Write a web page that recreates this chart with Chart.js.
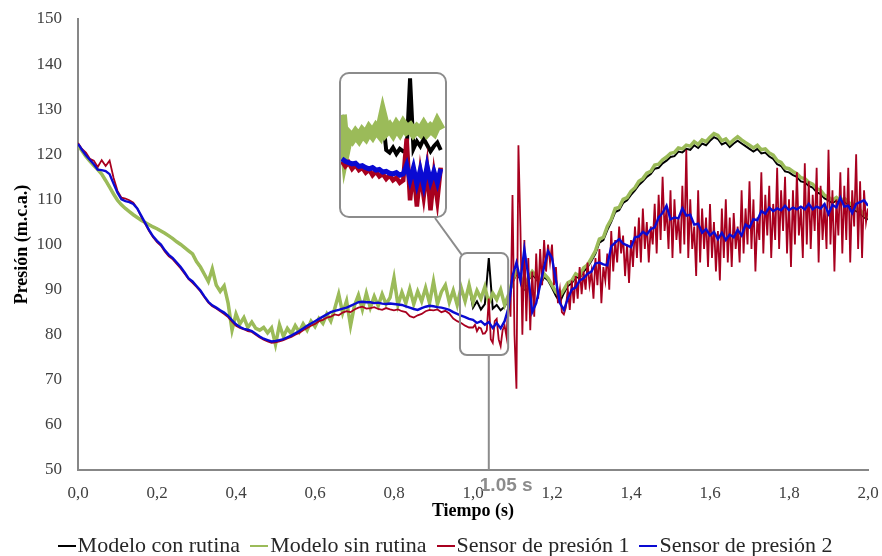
<!DOCTYPE html>
<html>
<head>
<meta charset="utf-8">
<script src="https://cdn.jsdelivr.net/npm/chart.js@4.4.0/dist/chart.umd.min.js"></script>
<style>
  body { margin: 0; background: #fff; }
  #wrap { position: relative; width: 882px; height: 556px; }
  #inset {
    position: absolute; left: 339px; top: 72px; width: 108px; height: 146px;
    box-sizing: border-box; border: 2px solid #8c8c8c; border-radius: 10px;
    overflow: hidden; background: #fff;
  }
  #legend {
    position: absolute; left: 0; top: 535px; width: 890px; height: 22px;
    display: flex; justify-content: center; gap: 10px;
    font: 22px "Liberation Serif", serif; color: #262626; line-height: 20px; white-space: nowrap;
  }
  #legend span.mark { display: inline-block; width: 18px; height: 2.5px; vertical-align: middle; margin-right: 2px; position: relative; top: -1px; }
</style>
</head>
<body>
<div id="wrap">
  <canvas id="chart" width="882" height="556"></canvas>
  <div id="inset"><canvas id="zoom" width="104" height="142"></canvas></div>
  <div id="legend"></div>
</div>
<script>
// model and sensor 2 are sampled every 0.01 s
const time = Array.from({ length: 201 }, (_, i) => +(i * 0.01).toFixed(2));
// sensor 1 is sampled every 0.01 s up to 1 s, then every 0.005 s
const sensor1Time = time.slice(0, 100).concat(
  Array.from({ length: 201 }, (_, j) => +(1 + j * 0.005).toFixed(3))
);

const modeloCon = [
  122.0, 120.8, 119.5, 118.5, 117.5, 116.6, 115.6, 114.2, 112.7, 111.2,
  109.8, 108.8, 108.0, 107.3, 106.6, 106.0, 105.4, 104.9, 104.4, 103.9,
  103.5, 103.0, 102.5, 101.9, 101.3, 100.6, 100.0, 99.3, 98.6, 97.9,
  96.2, 95.0, 93.4, 91.8, 94.6, 91.0, 89.6, 90.8, 87.0, 81.0,
  84.6, 82.4, 83.8, 81.6, 82.8, 81.4, 81.0, 81.6, 80.4, 81.5,
  77.8, 82.2, 79.6, 81.4, 80.2, 82.0, 80.6, 82.4, 81.0, 83.0,
  81.8, 83.6, 82.5, 84.6, 83.0, 85.8, 89.0, 84.8, 87.5, 82.0,
  86.5, 88.8, 85.6, 89.2, 86.0, 88.5, 86.4, 89.0, 86.8, 88.2,
  92.6, 86.6, 89.4, 87.0, 90.2, 86.8, 89.6, 87.4, 90.4, 87.0,
  91.8, 86.8, 89.5, 91.0, 87.2, 89.8, 86.6, 90.4, 87.4, 91.0,
  86.0, 87.4, 85.6, 86.8, 97.0, 85.8, 86.6, 85.4, 86.2, 88.0,
  91.5, 93.5, 92.4, 90.2, 92.0, 93.4, 92.4, 91.0, 92.8, 92.0,
  90.4, 88.6, 87.2, 89.2, 90.8, 91.4, 92.8, 92.6, 94.0, 95.0,
  96.4, 98.0, 100.4, 101.0, 103.2, 105.0, 107.2, 107.6, 109.2, 109.8,
  111.0, 112.0, 113.2, 114.0, 115.0, 115.6, 116.8, 117.0, 118.0, 118.6,
  119.4, 119.6, 120.6, 120.4, 121.2, 121.0, 122.0, 121.4, 122.4, 122.0,
  123.0, 123.8, 123.4, 122.2, 122.6, 121.6, 122.4, 123.0, 122.4, 121.8,
  121.2, 120.6, 121.2, 120.2, 120.4, 119.5, 119.0, 117.8, 117.4, 116.2,
  116.0, 115.4, 115.0, 114.0, 113.8, 113.0, 112.6, 111.6, 111.2, 110.2,
  109.8, 109.2, 109.8, 109.0, 109.6, 108.8, 108.2, 107.4, 107.0, 106.0,
  105.6
];

const modeloSin = [
  122.0, 120.8, 119.5, 118.5, 117.5, 116.6, 115.6, 114.2, 112.7, 111.2,
  109.8, 108.8, 108.0, 107.3, 106.6, 106.0, 105.4, 104.9, 104.4, 103.9,
  103.5, 103.0, 102.5, 101.9, 101.3, 100.6, 100.0, 99.3, 98.6, 97.9,
  96.2, 95.0, 93.4, 91.8, 94.6, 91.0, 89.6, 90.8, 87.0, 81.0,
  84.6, 82.4, 83.8, 81.6, 82.8, 81.4, 81.0, 81.6, 80.4, 81.5,
  77.8, 82.2, 79.6, 81.4, 80.2, 82.0, 80.6, 82.4, 81.0, 83.0,
  81.8, 83.6, 82.5, 84.6, 83.0, 85.8, 89.0, 84.8, 87.5, 82.0,
  86.5, 88.8, 85.6, 89.2, 86.0, 88.5, 86.4, 89.0, 86.8, 88.2,
  92.6, 86.6, 89.4, 87.0, 90.2, 86.8, 89.6, 87.4, 90.4, 87.0,
  91.8, 86.8, 89.5, 91.0, 87.2, 89.8, 86.6, 90.4, 87.4, 91.0,
  87.2, 89.8, 88.0, 90.6, 87.0, 89.2, 87.8, 90.0, 86.6, 88.8,
  92.0, 94.0, 93.0, 90.8, 92.5, 94.0, 93.0, 91.6, 93.5, 92.5,
  91.0, 89.5, 88.6, 90.0, 91.5, 92.0, 93.5, 93.0, 94.8, 95.5,
  97.0, 98.6, 101.2, 101.6, 104.0, 105.6, 108.0, 108.2, 110.0, 110.4,
  111.8, 112.6, 114.0, 114.6, 115.8, 116.2, 117.6, 117.8, 118.8, 119.4,
  120.2, 120.4, 121.4, 121.2, 122.0, 121.8, 122.8, 122.2, 123.2, 122.8,
  123.8, 124.6, 124.2, 123.0, 123.4, 122.4, 123.2, 123.9, 123.2, 122.6,
  122.0, 121.4, 122.0, 121.0, 121.2, 120.3, 119.8, 118.6, 118.2, 117.0,
  116.8, 116.2, 115.7, 114.8, 114.6, 113.8, 113.4, 112.4, 112.0, 110.9,
  110.5, 109.8, 110.4, 109.6, 110.2, 109.4, 108.8, 108.0, 107.6, 106.6,
  106.0
];

const sensor1 = [
  // 0.00 - 0.99 s
  122.5, 121.2, 120.4, 119.0, 118.6, 117.2, 118.7, 117.4, 118.6, 114.8,
  111.9, 110.4, 110.2, 109.8, 109.3, 108.0, 106.2, 104.6, 103.0, 101.6,
  100.5, 99.7, 98.4, 97.4, 96.7, 95.7, 94.7, 93.5, 92.3, 91.5,
  90.6, 89.6, 88.3, 87.1, 86.3, 85.8, 85.2, 84.6, 83.9, 82.9,
  82.0, 81.5, 81.2, 80.8, 80.6, 80.0, 79.4, 78.9, 78.5, 78.2,
  78.3, 78.5, 78.8, 79.2, 79.5, 80.0, 80.4, 81.0, 81.5, 82.0,
  82.4, 83.0, 83.3, 83.8, 84.0, 84.5, 84.3, 84.9, 85.2, 85.0,
  85.6, 86.0, 86.2, 85.8, 85.9, 86.1, 85.7, 85.5, 85.9, 85.6,
  85.4, 85.6, 85.2, 85.0, 84.1, 83.8, 84.3, 84.6, 85.2, 85.5,
  85.4, 85.6, 85.0, 85.3, 84.7, 83.6, 83.0, 82.6, 82.0, 81.6,
  // 1.000 - 2.000 s
  81.6, 82.2, 80.8, 81.6, 81.4, 80.2, 80.3, 81.0, 88.0, 79.0,
  78.2, 83.0, 83.5, 79.0, 77.5, 81.0, 82.0, 79.5, 89.0, 84.0,
  111, 80, 68, 122, 104, 80, 101, 83, 97, 81,
  94, 84, 98, 88, 99, 91, 101, 94, 100, 96,
  100, 91, 95, 87, 90, 85, 84.5, 86, 90, 85.5,
  92, 87, 93, 88, 95, 89, 94, 90, 96, 91,
  94, 88, 97, 91, 99, 87, 95, 92, 98, 90,
  103, 94, 101, 96, 104, 98, 102, 93, 100, 91.5,
  101, 95, 104, 97, 106, 96, 108, 99, 105, 96,
  104, 100, 109, 98, 111, 101, 115, 103, 108, 99,
  112, 97, 110, 101, 106, 98, 113, 100, 121, 97,
  110, 99, 104, 93, 112, 96, 108, 99, 106, 95,
  109, 97, 105, 94, 103, 92, 108, 97, 110, 96,
  106, 95, 107, 99, 104, 96, 112, 98, 108, 100,
  114, 99, 110, 94, 106, 101, 116, 98, 111, 102,
  113, 97, 109, 101, 117, 99, 112, 103, 115, 98,
  110, 95, 112, 100, 116, 102, 108, 97, 118, 100,
  114, 99, 111, 103, 117, 96, 113, 101, 109, 99,
  121, 100, 112, 94, 110, 102, 116, 98, 113, 101,
  117, 96, 112, 104, 120, 99, 114, 97, 112, 105,
  108
];

const sensor2 = [
  122.3, 121.0, 119.8, 118.8, 117.8, 116.6, 116.5, 116.3, 115.6, 113.5,
  111.5, 110.0, 109.6, 109.4, 109.0, 108.0, 106.4, 104.8, 103.2, 101.8,
  100.8, 100.0, 98.7, 97.7, 97.0, 96.0, 95.0, 93.8, 92.5, 91.8,
  90.8, 89.8, 88.5, 87.3, 86.5, 86.0, 85.4, 84.9, 84.2, 83.2,
  82.3, 81.7, 81.3, 81.1, 80.8, 80.2, 79.6, 79.1, 78.8, 78.5,
  78.6, 78.8, 79.0, 79.4, 79.8, 80.3, 80.8, 81.4, 82.0, 82.5,
  83.0, 83.5, 84.0, 84.5, 85.0, 85.3, 85.5, 85.8, 86.0, 86.4,
  86.8, 87.2, 87.3, 87.2, 87.2, 87.0, 87.1, 86.9, 86.8, 86.9,
  86.8, 86.7, 86.6, 86.3, 86.0, 85.7, 85.5, 85.9, 86.2, 86.4,
  86.3, 86.1, 86.0, 85.8, 85.5, 85.0, 84.6, 84.2, 83.9, 83.5,
  83.3, 82.6, 83.0, 82.2, 82.8, 81.5, 82.6, 81.4, 83.0, 86.0,
  93.0, 96.0, 92.0, 99.0, 93.0, 85.0, 87.0, 91.0, 95.0, 98.5,
  97.0, 92.0, 87.0, 85.5, 88.0, 90.0, 90.5, 92.0, 92.5, 93.5,
  94.0, 95.8, 96.0, 95.6, 95.4, 99.6, 100.4, 101.2, 100.2, 99.8,
  99.4, 101.6, 101.8, 102.8, 102.2, 103.4, 103.8, 106.0, 107.0, 108.6,
  105.6, 106.0, 105.8, 108.0, 106.4, 106.6, 104.4, 104.6, 102.6, 103.4,
  102.0, 102.8, 101.2, 102.6, 101.0, 102.2, 101.6, 103.2, 102.0, 104.4,
  103.8, 105.6, 105.4, 107.4, 106.8, 108.2, 107.4, 108.0, 107.6, 108.6,
  107.6, 108.2, 107.8, 108.4, 107.8, 109.0, 107.8, 108.4, 108.0, 109.0,
  106.8, 108.8, 108.2, 110.4, 108.4, 108.6, 107.0, 109.0, 109.4, 109.8,
  108.6
];

// finer samples around the valve closure, shown in the magnified box
const zoomTime = Array.from({ length: 30 }, (_, k) => +(0.968 + k * 0.004).toFixed(3));
const zoomCon = [
  91.6, 85.8, 88.4, 87.6, 88.6, 87.6, 88.8, 87.8, 89.0, 88.2,
  89.2, 88.4, 91.2, 86.0, 85.6, 86.4, 85.4, 86.2, 85.8, 86.0,
  97.4, 86.2, 87.4, 86.6, 87.8, 86.8, 85.8, 86.6, 87.2, 86.0
];
const zoomSin = [
  91.6, 85.8, 88.4, 87.8, 88.6, 87.9, 88.8, 88.2, 89.2, 88.5,
  89.4, 88.7, 91.2, 89.0, 89.6, 88.8, 89.8, 89.0, 90.0, 89.2,
  89.6, 88.8, 89.4, 88.9, 89.8, 88.9, 89.5, 89.0, 90.2, 89.2
];
const zoomSensor1 = [
  84.2, 83.4, 84.0, 83.0, 83.6, 82.8, 83.2, 82.4, 82.9, 82.0,
  82.6, 81.8, 82.2, 81.4, 82.0, 81.2, 81.6, 80.8, 81.2, 87.8,
  78.0, 83.2, 77.0, 82.4, 78.6, 83.0, 76.4, 82.0, 78.0, 83.2
];
const zoomSensor2 = [
  84.6, 84.2, 84.0, 83.8, 83.9, 83.4, 83.5, 83.2, 83.0, 83.2,
  82.8, 82.9, 82.5, 82.6, 82.3, 82.2, 82.4, 82.0, 82.2, 83.6,
  81.2, 83.2, 80.6, 82.8, 80.4, 83.4, 81.0, 82.6, 80.8, 83.0
];

const zoomX = [0.967, 1.089];
const zoomY = [75.5, 98.1];
const markerTime = 1.04;
const markerLabel = '1.05 s';

const seriesNames = ['Modelo con rutina', 'Modelo sin rutina', 'Sensor de presión 1', 'Sensor de presión 2'];
const seriesColors = ['#000000', '#9bbb59', '#a8001f', '#0a0ad2'];

function points(xs, ys) {
  return xs.map((t, i) => ({ x: t, y: ys[i] }));
}

function buildDatasets(series, widths) {
  // drawing order: blue on top, then red, green, black underneath
  const order = [3, 2, 1, 0];
  return series.map(([xs, ys], i) => ({
    label: seriesNames[i],
    data: points(xs, ys),
    borderColor: seriesColors[i],
    backgroundColor: seriesColors[i],
    borderWidth: widths[i],
    pointRadius: 0,
    tension: 0,
    order: order[i]
  }));
}

Chart.defaults.font.family = '"Liberation Serif", serif';
Chart.defaults.color = '#404040';

const annotations = {
  id: 'annotations',
  afterDatasetsDraw(chart) {
    const { ctx, scales: { x, y } } = chart;
    const left = x.getPixelForValue(zoomX[0]);
    const right = x.getPixelForValue(zoomX[1]);
    const top = y.getPixelForValue(zoomY[1]);
    const bottom = y.getPixelForValue(zoomY[0]);
    const mx = x.getPixelForValue(markerTime);
    const inset = document.getElementById('inset');

    ctx.save();
    ctx.strokeStyle = '#8c8c8c';
    ctx.lineWidth = 2;
    ctx.beginPath();
    ctx.roundRect(left, top, right - left, bottom - top, 7);
    ctx.stroke();

    ctx.beginPath();
    ctx.moveTo(mx, bottom);
    ctx.lineTo(mx, y.bottom);
    ctx.stroke();

    ctx.beginPath();
    ctx.moveTo(inset.offsetLeft + inset.offsetWidth - 12, inset.offsetTop + inset.offsetHeight);
    ctx.lineTo(left + 2, top + 2);
    ctx.stroke();

    ctx.font = 'bold 19px "Liberation Sans", Arial, sans-serif';
    ctx.fillStyle = '#8c8c8c';
    ctx.textBaseline = 'middle';
    ctx.fillText(markerLabel, mx - 9, y.bottom + 16);
    ctx.restore();
  }
};

new Chart(document.getElementById('chart'), {
  type: 'line',
  data: {
    datasets: buildDatasets(
      [[time, modeloCon], [time, modeloSin], [sensor1Time, sensor1], [time, sensor2]],
      [2, 3.5, 1.8, 2.4]
    )
  },
  options: {
    responsive: false,
    animation: false,
    layout: { padding: { left: 0, right: 14, top: 19, bottom: 34 } },
    plugins: { legend: { display: false }, tooltip: { enabled: false } },
    scales: {
      x: {
        type: 'linear',
        min: 0,
        max: 2,
        afterFit: (s) => { s.height = 52; s.paddingLeft = 0; s.paddingRight = 0; },
        grid: { display: false, drawTicks: false },
        border: { color: '#878787', width: 2 },
        ticks: {
          stepSize: 0.2,
          padding: 13,
          font: { size: 17 },
          callback: (v) => v.toFixed(1).replace('.', ',')
        },
        title: {
          display: true,
          text: 'Tiempo (s)',
          color: '#000',
          padding: { top: 0, bottom: 0 },
          font: { size: 18, weight: 'bold' }
        }
      },
      y: {
        min: 50,
        max: 150,
        afterFit: (s) => { s.width = 78; s.paddingTop = 0; s.paddingBottom = 0; },
        grid: { display: false, drawTicks: false },
        border: { color: '#878787', width: 2 },
        ticks: { stepSize: 10, padding: 16, font: { size: 17 } },
        title: {
          display: true,
          text: 'Presión (m.c.a.)',
          color: '#000',
          padding: { top: 12, bottom: 0 },
          font: { size: 18, weight: 'bold' }
        }
      }
    }
  },
  plugins: [annotations]
});

// magnified view of the box around the closure time
new Chart(document.getElementById('zoom'), {
  type: 'line',
  data: {
    datasets: buildDatasets(
      [[zoomTime, zoomCon], [zoomTime, zoomSin], [zoomTime, zoomSensor1], [zoomTime, zoomSensor2]],
      [4, 10, 4.5, 5]
    )
  },
  options: {
    responsive: false,
    animation: false,
    layout: { padding: 0 },
    plugins: { legend: { display: false }, tooltip: { enabled: false } },
    scales: {
      x: { type: 'linear', display: false, min: zoomX[0], max: zoomX[1] },
      y: { display: false, min: zoomY[0], max: zoomY[1] }
    }
  }
});

const legend = document.getElementById('legend');
seriesNames.forEach((name, i) => {
  const item = document.createElement('div');
  item.innerHTML = '<span class="mark" style="background:' + seriesColors[i] + '"></span>' + name;
  legend.appendChild(item);
});
</script>
</body>
</html>
